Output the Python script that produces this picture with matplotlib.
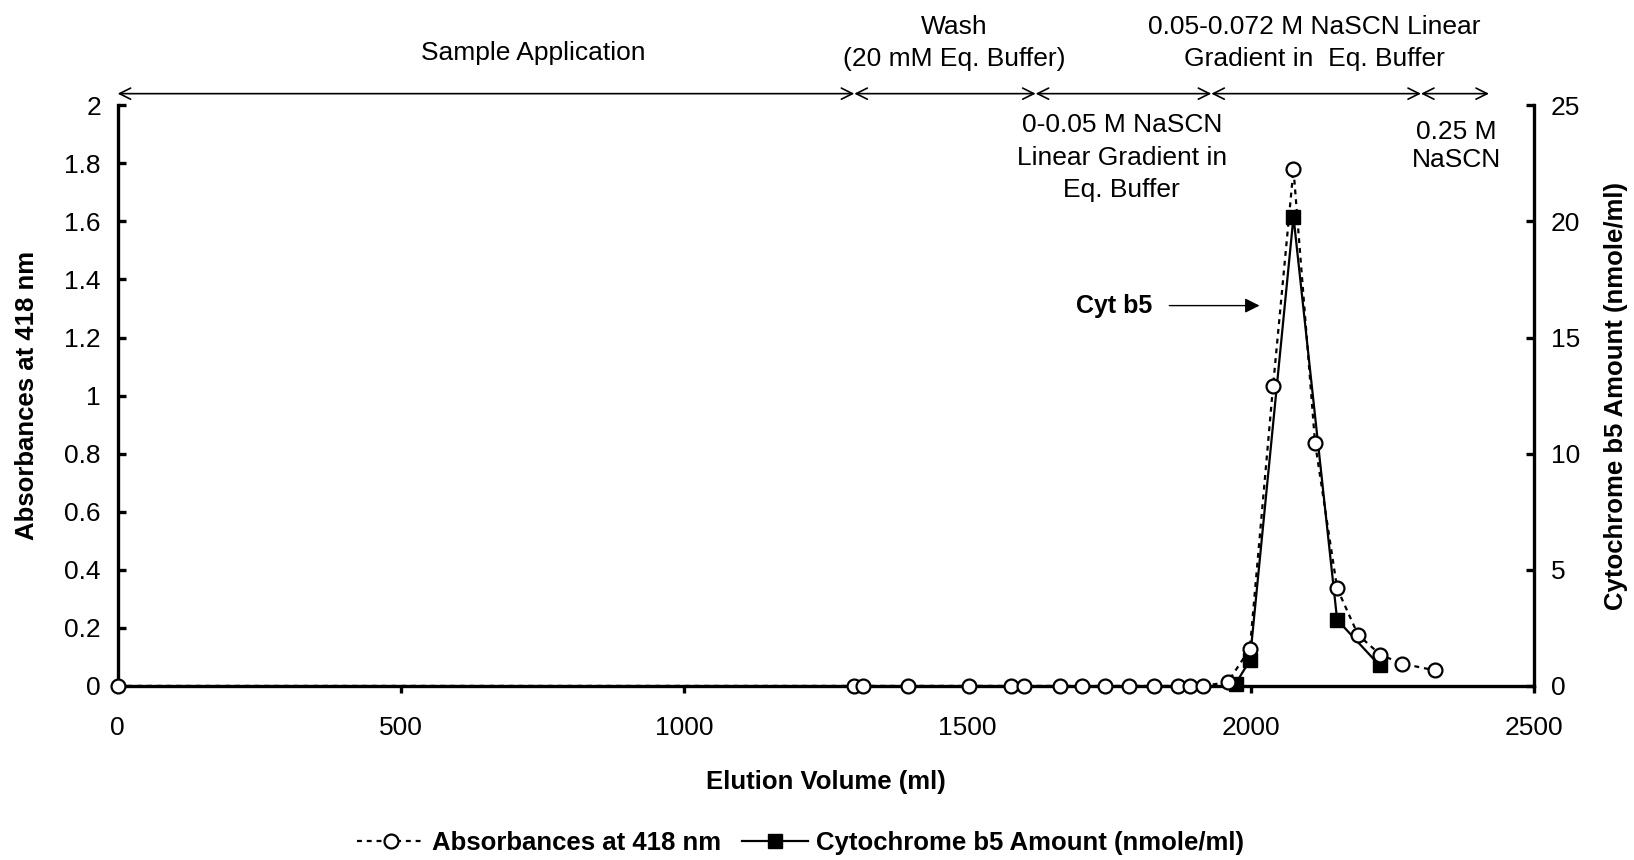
#!/usr/bin/env python3

import matplotlib
matplotlib.use("Agg")
import matplotlib.pyplot as plt
from matplotlib.ticker import FuncFormatter

plt.rcParams['font.family'] = ['Liberation Sans', 'DejaVu Sans']

# Absorbance at 418 nm (left axis)
abs_volume = [0, 1300, 1316, 1394, 1502, 1577, 1600, 1663, 1702, 1742, 1785,
              1829, 1871, 1893, 1915, 1959, 1998, 2039, 2075, 2113, 2152,
              2189, 2228, 2266, 2324]
abs_values = [0, 0, 0, 0, 0, 0, 0, 0, 0, 0, 0,
              0, 0, 0, 0, 0.013, 0.128, 1.034, 1.78, 0.838, 0.336,
              0.176, 0.108, 0.077, 0.054]

# Cytochrome b5 amount (right axis)
cyt_volume = [1973, 1998, 2075, 2152, 2227]
cyt_values = [0.1, 1.1, 20.2, 2.85, 0.88]

# elution steps drawn as double arrows above the plot
step_bounds = [0, 1300, 1620, 1930, 2300, 2420]

TICK_SIZE = 19
TEXT_SIZE = 19
LABEL_SIZE = 18.5


def main():
    fig = plt.figure(figsize=(16.34, 8.6), dpi=100)
    ax = fig.add_axes([0.072, 0.2024, 0.867, 0.6752])
    ax2 = ax.twinx()

    ax.plot(abs_volume, abs_values, linestyle=(0, (2.2, 2.2)), color='black',
            linewidth=1.6, marker='o', markersize=10, markerfacecolor='white',
            markeredgecolor='black', markeredgewidth=1.6, clip_on=False,
            zorder=5, label='Absorbances at 418 nm')
    ax2.plot(cyt_volume, cyt_values, linestyle='-', color='black',
             linewidth=1.6, marker='s', markersize=10, markerfacecolor='black',
             markeredgecolor='black', clip_on=False, zorder=4,
             label='Cytochrome b5 Amount (nmole/ml)')
    ax.set_zorder(ax2.get_zorder() + 1)
    ax.patch.set_visible(False)

    ax.set_xlim(0, 2500)
    ax.set_ylim(0, 2)
    ax2.set_ylim(0, 25)
    ax.set_xticks([0, 500, 1000, 1500, 2000, 2500])
    ax.set_yticks([i * 0.2 for i in range(11)])
    ax2.set_yticks([0, 5, 10, 15, 20, 25])
    ax.yaxis.set_major_formatter(FuncFormatter(lambda v, p: '%g' % round(v, 1)))

    for a in (ax, ax2):
        a.spines['top'].set_visible(False)
        for s in ('left', 'right', 'bottom'):
            a.spines[s].set_linewidth(2.4)
    ax.spines['right'].set_visible(False)
    ax2.spines['left'].set_visible(False)
    ax2.spines['bottom'].set_visible(False)

    ax.tick_params(axis='y', direction='in', length=6, width=2.4,
                   labelsize=TICK_SIZE, pad=12)
    ax.tick_params(axis='x', direction='out', length=5, width=2.4,
                   labelsize=TICK_SIZE, pad=17)
    ax2.tick_params(axis='y', direction='in', length=6, width=2.4,
                    labelsize=TICK_SIZE, pad=12)

    ax.set_xlabel('Elution Volume (ml)', fontsize=LABEL_SIZE, fontweight='bold',
                  labelpad=21)
    ax.set_ylabel('Absorbances at 418 nm', fontsize=LABEL_SIZE,
                  fontweight='bold', labelpad=18)
    ax2.set_ylabel('Cytochrome b5 Amount (nmole/ml)', fontsize=LABEL_SIZE,
                   fontweight='bold', labelpad=17)

    # step arrows
    for i in range(len(step_bounds) - 1):
        ax.annotate('', xy=(step_bounds[i], 2.04),
                    xytext=(step_bounds[i + 1], 2.04),
                    arrowprops=dict(arrowstyle='<->', color='black', lw=1.2,
                                    shrinkA=0, shrinkB=0,
                                    mutation_scale=20),
                    annotation_clip=False)

    ax.text(733, 2.18, 'Sample Application', ha='center', va='center',
            fontsize=TEXT_SIZE)
    ax.text(1476, 2.215, 'Wash\n(20 mM Eq. Buffer)', ha='center',
            va='center', fontsize=TEXT_SIZE, linespacing=1.45)
    ax.text(2112, 2.215, '0.05-0.072 M NaSCN Linear\nGradient in  Eq. Buffer',
            ha='center', va='center', fontsize=TEXT_SIZE, linespacing=1.45)
    ax.text(1772, 1.82, '0-0.05 M NaSCN\nLinear Gradient in\nEq. Buffer',
            ha='center', va='center', fontsize=TEXT_SIZE, linespacing=1.45)
    ax.text(2362, 1.86, '0.25 M\nNaSCN', ha='center', va='center',
            fontsize=TEXT_SIZE, linespacing=1.2)

    ax.annotate('', xy=(2020, 1.31), xytext=(1851, 1.31),
                arrowprops=dict(arrowstyle='-|>', color='black', lw=1.0,
                                mutation_scale=22))
    ax.text(1825, 1.31, 'Cyt b5', ha='right', va='center', fontsize=18,
            fontweight='bold')

    h1, l1 = ax.get_legend_handles_labels()
    h2, l2 = ax2.get_legend_handles_labels()
    fig.legend(h1 + h2, l1 + l2, loc='center', bbox_to_anchor=(0.49, 0.02),
               ncol=2, frameon=False, prop={'size': LABEL_SIZE, 'weight': 'bold'},
               handlelength=2.6, handletextpad=0.3, columnspacing=0.8)

    fig.savefig('out.png', dpi=100)


if __name__ == "__main__":
    main()
